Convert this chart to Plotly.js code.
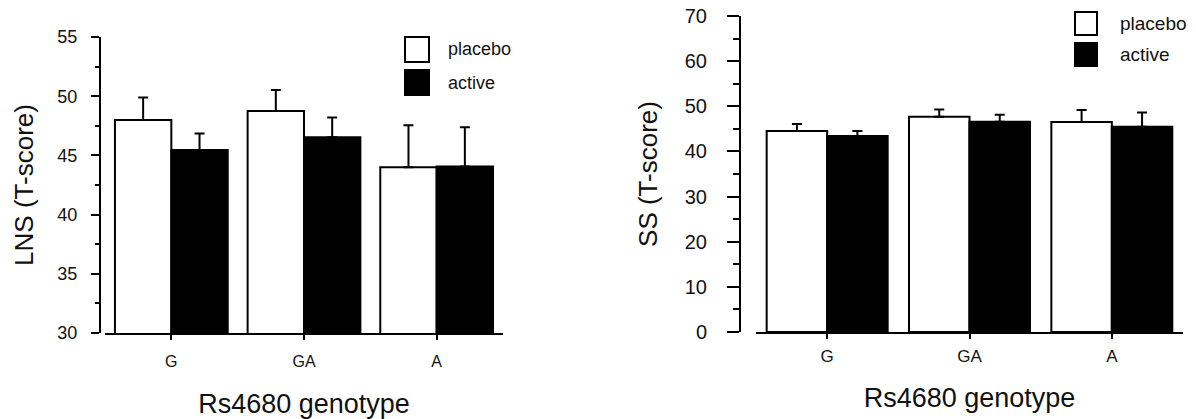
<!DOCTYPE html>
<html>
<head>
<meta charset="utf-8">
<script src="https://cdn.plot.ly/plotly-3.0.1.min.js"></script>
<style>html,body{margin:0;padding:0;background:#fff;}#chart{width:1196px;height:419px;}</style>
</head>
<body>
<div id="chart"></div>
<script>
// ---- data ----
const categories = ['G', 'GA', 'A'];
const seriesNames = ['placebo', 'active'];
const lnsPlacebo = [48.0, 48.75, 44.0];
const lnsPlaceboErr = [1.9, 1.77, 3.54];
const lnsActive = [45.46, 46.53, 44.06];
const lnsActiveErr = [1.38, 1.68, 3.31];
const ssPlacebo = [44.5, 47.67, 46.5];
const ssPlaceboErr = [1.55, 1.63, 2.65];
const ssActive = [43.4, 46.56, 45.45];
const ssActiveErr = [1.1, 1.54, 3.15];
const lnsTicks = [30, 35, 40, 45, 50, 55];
const ssTicks = [0, 10, 20, 30, 40, 50, 60, 70];
const xTitle = 'Rs4680 genotype';
const lnsTitle = 'LNS (T-score)';
const ssTitle = 'SS (T-score)';

// ---- helpers (pixel -> paper) ----
const W = 1196, H = 419;
const px = x => x / W;
const py = y => 1 - y / H;
const FONT = 'Liberation Sans, Arial, sans-serif';
const zeros = categories.map(() => 0);

function barTrace(name, y, err, fill, xa, ya) {
  return {
    type: 'bar', name: name, x: categories, y: y, xaxis: xa, yaxis: ya,
    marker: {color: fill, line: {color: '#000', width: 2}},
    error_y: {type: 'data', symmetric: false, array: err, arrayminus: zeros,
              color: '#000', thickness: 2, width: 5},
    showlegend: false
  };
}

const data = [
  barTrace(seriesNames[0], lnsPlacebo, lnsPlaceboErr, '#fff', 'x', 'y'),
  barTrace(seriesNames[1], lnsActive, lnsActiveErr, '#000', 'x', 'y'),
  barTrace(seriesNames[0], ssPlacebo, ssPlaceboErr, '#fff', 'x2', 'y2'),
  barTrace(seriesNames[1], ssActive, ssActiveErr, '#000', 'x2', 'y2')
];

function xAxis(domain, anchor, fsize, lstand, standoff) {
  return {
    domain: domain, anchor: anchor, type: 'category', range: [-0.5, 2.5],
    showline: true, linewidth: 2, linecolor: '#000', showgrid: false, zeroline: false,
    ticks: 'outside', ticklen: 5, tickwidth: 2, tickcolor: '#000',
    tickfont: {family: FONT, size: fsize, color: '#111'}, ticklabelstandoff: lstand,
    title: {text: xTitle, font: {family: FONT, size: 27, color: '#111'}, standoff: standoff},
    automargin: false, fixedrange: true
  };
}
function yAxis(domain, pos, range, ticks, minorDt, tlen, fsize, title, tstand, lstand) {
  return {
    domain: domain, anchor: 'free', position: pos, range: range,
    tickmode: 'array', tickvals: ticks,
    showline: true, linewidth: 2, linecolor: '#000', showgrid: false, zeroline: false,
    ticks: 'outside', ticklen: tlen, tickwidth: 2, tickcolor: '#000',
    minor: {dtick: minorDt, tick0: range[0], ticks: 'outside', ticklen: Math.round(tlen / 2), tickwidth: 2, tickcolor: '#000', showgrid: false},
    tickfont: {family: FONT, size: fsize, color: '#111'}, ticklabelstandoff: lstand,
    title: {text: title, font: {family: FONT, size: 26, color: '#111'}, standoff: tstand},
    automargin: false, fixedrange: true
  };
}

const shapes = [], annotations = [];
function legend(x0, y0, w, h, gap, tx, fsize) {
  const fills = ['#fff', '#000'];
  seriesNames.forEach((nm, i) => {
    const top = y0 + i * (h + gap);
    shapes.push({type: 'rect', xref: 'paper', yref: 'paper',
      x0: px(x0), x1: px(x0 + w), y0: py(top + h), y1: py(top),
      fillcolor: fills[i], line: {color: '#000', width: 2}});
    annotations.push({xref: 'paper', yref: 'paper', x: px(tx), y: py(top + h / 2),
      xanchor: 'left', yanchor: 'middle', text: nm, showarrow: false,
      font: {family: FONT, size: fsize, color: '#111'}});
  });
}
legend(405, 37, 24, 25, 8, 446, 18);
legend(1075, 12, 22, 23, 8, 1118, 19);

const layout = {
  width: W, height: H, margin: {l: 0, r: 0, t: 0, b: 0},
  paper_bgcolor: '#fff', plot_bgcolor: '#fff',
  barmode: 'group', bargap: 0.15, bargroupgap: 0,
  showlegend: false,
  xaxis: xAxis([px(105), px(503)], 'y', 16, 8, 27),
  yaxis: yAxis([py(333), py(37)], px(100), [30, 55], lnsTicks, 2.5, 8, 18, lnsTitle, 15, 10),
  xaxis2: xAxis([px(756), px(1183)], 'y2', 17, 3, 23),
  yaxis2: yAxis([py(332), py(16)], px(740), [0, 70], ssTicks, 5, 12, 20, ssTitle, 19, 16),
  shapes: shapes, annotations: annotations,
  font: {family: FONT}
};

Plotly.newPlot('chart', data, layout, {staticPlot: true, displayModeBar: false});
</script>
</body>
</html>
